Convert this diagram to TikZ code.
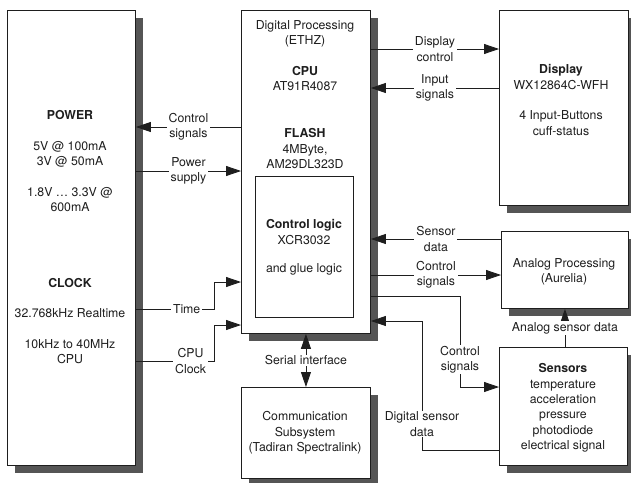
\documentclass[tikz,border=0pt]{standalone}
\usepackage{fontspec}
\setmainfont{TeX Gyre Heros}
\usetikzlibrary{arrows.meta,shadows}
\definecolor{shadowgray}{RGB}{85,85,85}
\definecolor{ink}{RGB}{30,30,30}
\begin{document}
\begin{tikzpicture}[x=1pt,y=-1pt,
  every node/.style={font=\fontsize{12.3}{15.3}\selectfont, text=ink},
  plainbox/.style={draw=ink, line width=0.9pt, fill=white, anchor=north west, inner sep=0pt},
  box/.style={plainbox, drop shadow={shadow xshift=8pt, shadow yshift=-8pt, fill=shadowgray, opacity=1}},
  txt/.style={align=center, inner sep=0pt, anchor=north},
  conn/.style={draw=ink, line width=0.8pt},
  tip/.tip={Triangle[length=15pt, width=10pt]},
  arr/.style={conn, -tip},
  lbl/.style={fill=white, align=center, inner xsep=2pt, inner ysep=1pt},
]
\useasboundingbox (0,0) rectangle (631,482);
\clip (0,0) rectangle (631,482);

% boxes
\node[box, minimum width=128pt, minimum height=455pt] (pc) at (7,10) {};
\node[box, minimum width=129pt, minimum height=323pt] (dp) at (241,10) {};
\node[plainbox, minimum width=98pt, minimum height=141pt] (inner) at (255,176) {};
\node[box, minimum width=129pt, minimum height=91pt] (comm) at (241,387) {};
\node[box, minimum width=129pt, minimum height=195pt] (disp) at (499,10) {};
\node[box, minimum width=127pt, minimum height=77pt] (ana) at (501,231) {};
\node[box, minimum width=128pt, minimum height=118pt] (sens) at (499,347) {};

% texts
\node[txt] (pwrtxt) at (70,110.5) {\textbf{POWER}\\[15.3pt]5V @ 100mA\\3V @ 50mA\\[15.3pt]1.8V … 3.3V @\\600mA};
\node[txt] (clktxt) at (70,278.5) {\textbf{CLOCK}\\[14pt]32.768kHz Realtime\\[16pt]10kHz to 40MHz\\CPU};
\node[txt] (dptxt) at (305,20.5) {Digital Processing\\(ETHZ)\\[15.3pt]\textbf{CPU}\\AT91R4087};
\node[txt] (flashtxt) at (305,128.5) {\textbf{FLASH}\\4MByte,\\AM29DL323D};
\node[txt] (innertxt) at (304,219.5) {\textbf{Control logic}\\XCR3032\\[13pt]and glue logic};
\node[txt] (commtxt) at (305,411.5) {Communication\\Subsystem\\(Tadiran Spectralink)};
\node[txt] (disptxt) at (561,64.5) {\textbf{Display}\\WX12864C-WFH\\[15.3pt]4 Input-Buttons\\cuff-status};
\node[txt] (anatxt) at (564,258.5) {Analog Processing\\(Aurelia)};
\node[txt] (senstxt) at (563,363.5) {\textbf{Sensors}\\temperature\\acceleration\\pressure\\photodiode\\electrical signal};

% helper levels
\coordinate (yA) at (0,49);
\coordinate (yB) at (0,88);
\coordinate (yC) at (0,127);
\coordinate (yD) at (0,171);
\coordinate (yE) at (0,309);
\coordinate (yF) at (0,282);
\coordinate (yG) at (0,361);
\coordinate (yH) at (0,325);
\coordinate (yI) at (0,239);
\coordinate (yJ) at (0,275);
\coordinate (yK) at (0,296);
\coordinate (yL) at (0,387);
\coordinate (yM) at (0,450);
\coordinate (yN) at (0,321);
\coordinate (xT) at (214,0);
\coordinate (xS) at (460,0);
\coordinate (xD) at (422,0);

% connectors
\draw[arr] (dp.east |- yA) -- node[lbl] {Display\\control} (disp.west |- yA);
\draw[arr] (disp.west |- yB) -- node[lbl] {Input\\signals} (dp.east |- yB);
\draw[arr] (dp.west |- yC) -- node[lbl] {Control\\signals} (pc.east |- yC);
\draw[arr] (pc.east |- yD) -- node[lbl] {Power\\supply} (dp.west |- yD);
\draw[arr] (pc.east |- yE) -- node[lbl, pos=0.65] {Time} (xT |- yE) -- (xT |- yF) -- (dp.west |- yF);
\draw[arr] (pc.east |- yG) -- node[lbl, pos=0.7] {CPU\\Clock} (xT |- yG) -- (xT |- yH) -- (dp.west |- yH);
\draw[arr] (ana.west |- yI) -- node[lbl] {Sensor\\data} (dp.east |- yI);
\draw[arr] (dp.east |- yJ) -- node[lbl] {Control\\signals} (ana.west |- yJ);
\draw[arr] (dp.east |- yK) -- (xS |- yK) -- node[lbl, pos=0.7] {Control\\signals} (xS |- yL) -- (sens.west |- yL);
\draw[arr] (sens.west |- yM) -- (xD |- yM) -- node[lbl, pos=0.2] {Digital sensor\\data} (xD |- yN) -- (dp.east |- yN);
\draw[arr] (ana.south |- sens.north) -- node[lbl] {Analog sensor data} (ana.south);
\draw[conn, tip-tip] (comm.north) -- node[lbl] {Serial interface} (dp.south);
\end{tikzpicture}
\end{document}
